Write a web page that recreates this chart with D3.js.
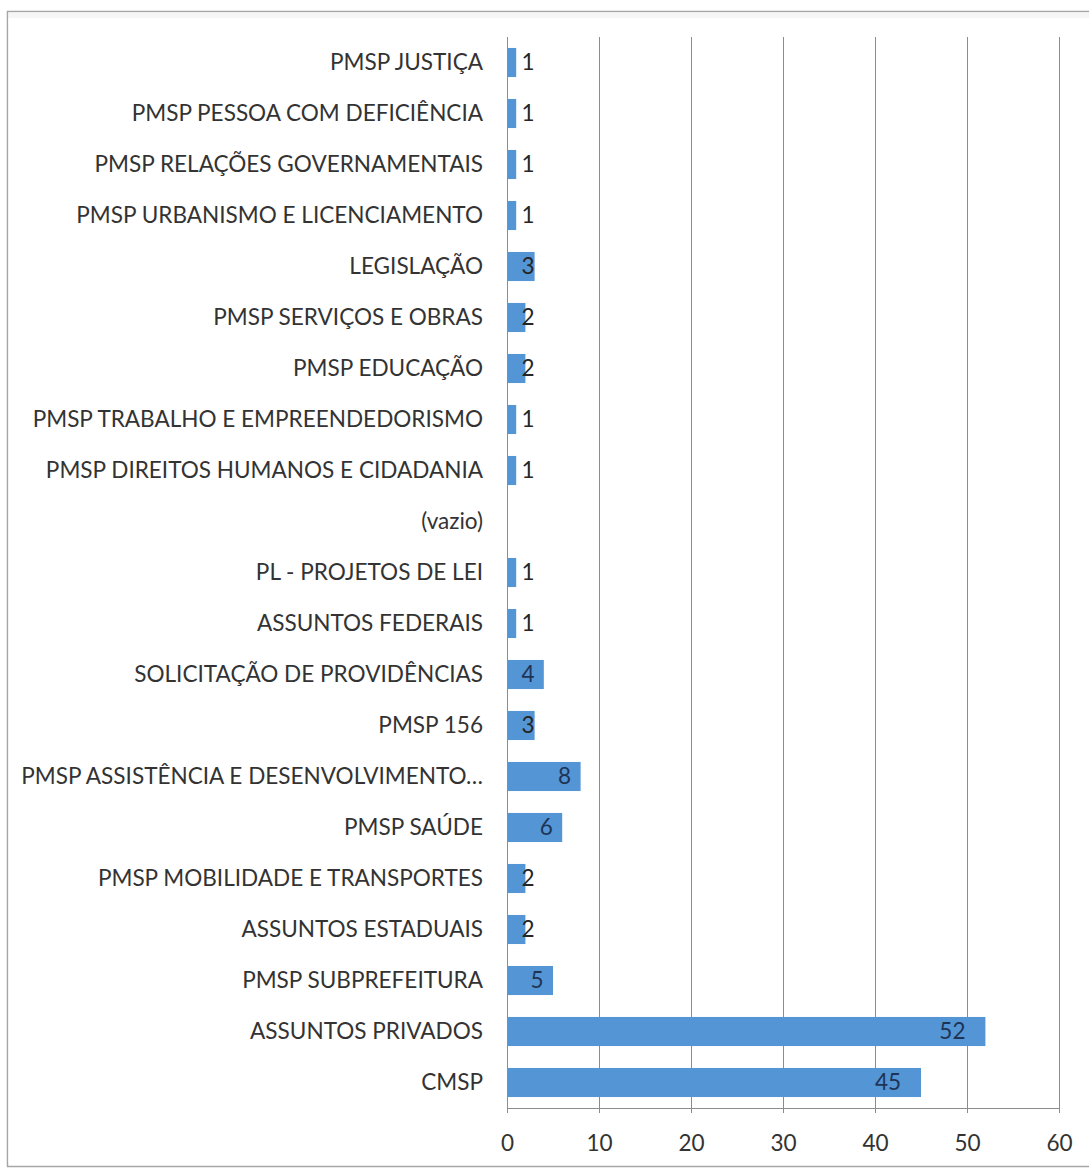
<!DOCTYPE html>
<html>
<head>
<meta charset="utf-8">
<script src="https://cdn.jsdelivr.net/npm/d3@7/dist/d3.min.js"></script>
<style>
  html, body { margin: 0; padding: 0; background: #fff; }
  svg { display: block; }
</style>
</head>
<body>
<svg id="chart" width="1089" height="1169"></svg>
<script>
const categories = [
  "PMSP JUSTIÇA",
  "PMSP PESSOA COM DEFICIÊNCIA",
  "PMSP RELAÇÕES GOVERNAMENTAIS",
  "PMSP URBANISMO E LICENCIAMENTO",
  "LEGISLAÇÃO",
  "PMSP SERVIÇOS E OBRAS",
  "PMSP EDUCAÇÃO",
  "PMSP TRABALHO E EMPREENDEDORISMO",
  "PMSP DIREITOS HUMANOS E CIDADANIA",
  "(vazio)",
  "PL - PROJETOS DE LEI",
  "ASSUNTOS FEDERAIS",
  "SOLICITAÇÃO DE PROVIDÊNCIAS",
  "PMSP 156",
  "PMSP ASSISTÊNCIA E DESENVOLVIMENTO…",
  "PMSP SAÚDE",
  "PMSP MOBILIDADE E TRANSPORTES",
  "ASSUNTOS ESTADUAIS",
  "PMSP SUBPREFEITURA",
  "ASSUNTOS PRIVADOS",
  "CMSP"
];
const values = [1, 1, 1, 1, 3, 2, 2, 1, 1, null, 1, 1, 4, 3, 8, 6, 2, 2, 5, 52, 45];
const xTicks = [0, 10, 20, 30, 40, 50, 60];

const FONT = "Lato, 'Open Sans', sans-serif";
const svg = d3.select("#chart");
const W = 1089, H = 1169;
const plot = { left: 507, right: 1059, top: 37, bottom: 1108 };

// outer chart border
svg.append("rect")
  .attr("x", 7.5).attr("y", 11.5)
  .attr("width", W + 20).attr("height", H - 14)
  .attr("fill", "#fff").attr("stroke", "#a6a6a6").attr("stroke-width", 1.5);
svg.append("rect")
  .attr("x", 8.5).attr("y", 12.5)
  .attr("width", W).attr("height", 10)
  .attr("fill", "#f6f6f6");
svg.append("rect")
  .attr("x", 8.5).attr("y", 18)
  .attr("width", W).attr("height", H - 24)
  .attr("fill", "#fff");

const x = d3.scaleLinear().domain([0, 60]).range([plot.left, plot.right]);
const y = d3.scaleBand().domain(categories).range([plot.top, plot.bottom]).paddingInner(0.43).paddingOuter(0.215);

// gridlines
svg.append("g").selectAll("line").data(xTicks.filter(d => d > 0)).join("line")
  .attr("x1", d => Math.round(x(d)) + 0.5).attr("x2", d => Math.round(x(d)) + 0.5)
  .attr("y1", plot.top).attr("y2", plot.bottom + 5)
  .attr("stroke", "#8c8c8c").attr("stroke-width", 1);

// bars
svg.append("g").selectAll("rect")
  .data(categories.map((c, i) => ({ c, v: values[i] })).filter(d => d.v != null))
  .join("rect")
  .attr("x", x(0))
  .attr("y", d => y(d.c))
  .attr("width", d => x(d.v) - x(0))
  .attr("height", y.bandwidth())
  .attr("fill", "#5495d6");

// axes lines
svg.append("line")
  .attr("x1", Math.round(x(0)) + 0.5).attr("x2", Math.round(x(0)) + 0.5)
  .attr("y1", plot.top).attr("y2", plot.bottom + 5)
  .attr("stroke", "#8c8c8c");
svg.append("line")
  .attr("x1", x(0)).attr("x2", x(60) + 1)
  .attr("y1", plot.bottom + 0.5).attr("y2", plot.bottom + 0.5)
  .attr("stroke", "#8c8c8c");

// x tick labels via axis generator
const xAxis = d3.axisBottom(x).tickValues(xTicks).tickSize(0).tickPadding(27);
const gx = svg.append("g").attr("transform", `translate(0,${plot.bottom})`).call(xAxis);
gx.select(".domain").remove();
gx.selectAll("text").attr("font-family", FONT).attr("font-size", 21).attr("fill", "#333");

// category labels via axis generator
const yAxis = d3.axisLeft(y).tickSize(0).tickPadding(24);
const gy = svg.append("g").attr("transform", `translate(${plot.left},0)`).call(yAxis);
gy.select(".domain").remove();
gy.selectAll("text").attr("font-family", FONT).attr("font-size", 21).attr("fill", "#333");

// fit longest label to reference width (~460px)
let maxW = 0;
gy.selectAll("text").each(function () { maxW = Math.max(maxW, this.getComputedTextLength()); });
const fs = 21 * 462 / maxW;
gy.selectAll("text").attr("font-size", fs);
gx.selectAll("text").attr("font-size", fs);

// value labels
svg.append("g").selectAll("text")
  .data(categories.map((c, i) => ({ c, v: values[i] })).filter(d => d.v != null))
  .join("text")
  .attr("x", d => {
    const end = x(d.v);
    const off = d.v > 10 ? 33 : 16;
    return Math.max(528, end - off);
  })
  .attr("y", d => y(d.c) + y.bandwidth() / 2)
  .attr("dy", "0.35em")
  .attr("text-anchor", "middle")
  .attr("font-family", FONT)
  .attr("font-size", fs)
  .attr("fill", d => d.v >= 4 ? "#1f3455" : "#262626")
  .text(d => d.v);
</script>
</body>
</html>
